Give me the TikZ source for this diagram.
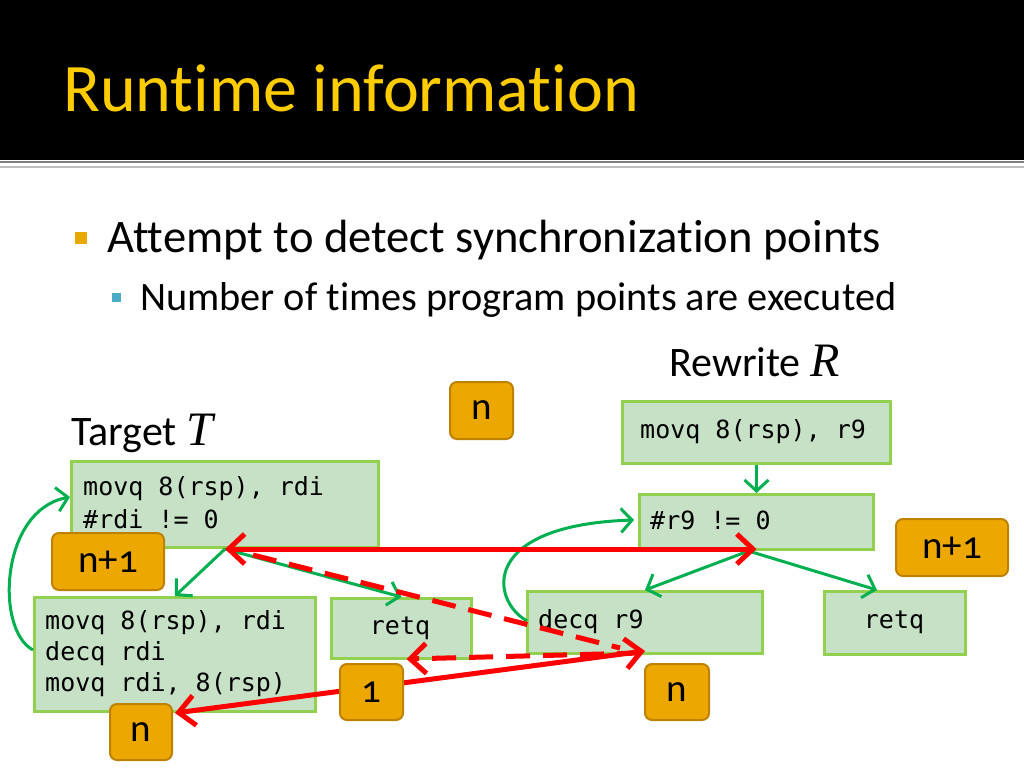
\documentclass[tikz,border=0pt]{standalone}
\usepackage{fontspec}
\setmainfont{Carlito}[Ligatures=NoCommon]
\newfontfamily\codefont{DejaVu Sans Mono}
\newfontfamily\badgefont{Carlito}[Ligatures=NoCommon,Numbers=OldStyle]
\newfontfamily\serifit{Liberation Serif}
\usetikzlibrary{arrows.meta,calc}
\definecolor{boxfill}{RGB}{198,225,197}
\definecolor{boxline}{RGB}{146,208,80}
\definecolor{badgefill}{RGB}{236,168,0}
\definecolor{badgeline}{RGB}{190,130,0}
\definecolor{arrgreen}{RGB}{0,176,80}
\definecolor{titleyellow}{RGB}{255,204,0}
\definecolor{bulletorange}{RGB}{232,168,0}
\definecolor{bulletteal}{RGB}{75,172,198}
\tikzset{rtip/.tip={Straight Barb[length=16pt,width=30pt,line width=5pt]}}
\begin{document}
\begin{tikzpicture}[x=1pt,y=-1pt,
 box/.style={draw=boxline, fill=boxfill, line width=3pt, inner sep=0pt, anchor=north west},
 badge/.style={draw=badgeline, fill=badgefill, line width=2pt, rounded corners=7pt, inner sep=0pt, font=\badgefont\fontsize{39}{39}\selectfont},
 code/.style={font=\codefont\fontsize{25}{30}\selectfont, anchor=west, inner sep=0pt},
 garrow/.style={draw=arrgreen, line width=3pt, -{Straight Barb[length=11pt,width=24pt,line width=3pt]}},
 rline/.style={draw=red, line width=5pt},
 rdash/.style={draw=red, line width=5pt, dash pattern=on 24pt off 13pt}
]
\useasboundingbox (0,0) rectangle (1024,768);
\fill[white] (0,0) rectangle (1024,768);
% title band
\fill[black] (0,0) rectangle (1024,160);
\draw[gray, line width=2pt] (0,162) -- (1024,162);
\draw[gray!50, line width=2pt] (0,166.5) -- (1024,166.5);
\node[anchor=west, inner sep=0pt, text=titleyellow, font=\fontsize{68}{68}\selectfont] (title) at (63,88) {Runtime information};
% bullets
\fill[bulletorange] (75,232) rectangle (87,244);
\node[anchor=base west, inner sep=0pt, font=\fontsize{46.6}{46.6}\selectfont] (b1) at (107,252) {Attempt to detect synchronization points};
\fill[bulletteal] (112,293) rectangle (121,302);
\node[anchor=base west, inner sep=0pt, font=\fontsize{40.3}{40.3}\selectfont] (b2) at (140,310) {Number of times program points are executed};
\node[anchor=base west, inner sep=0pt, font=\fontsize{42}{42}\selectfont] (lr) at (669,376) {Rewrite {\serifit\itshape\fontsize{48}{48}\selectfont R}};
\node[anchor=base west, inner sep=0pt, font=\fontsize{42}{42}\selectfont] (lt) at (71,445) {Target {\serifit\itshape\fontsize{48}{48}\selectfont T}};
% boxes target
\node[box, minimum width=307pt, minimum height=86pt] (t1) at (70,460) {};
\node[box, minimum width=281pt, minimum height=114pt] (t2) at (33,596) {};
\node[box, minimum width=140pt, minimum height=60pt] (t3) at (330,597) {};
\node[code] (t1a) at (83,489) {movq 8(rsp), rdi};
\node[code] (t1b) at (83,519) {\#rdi != 0};
\node[code] (t2a) at (45,623) {movq 8(rsp), rdi};
\node[code] (t2b) at (45,654) {decq rdi};
\node[code] (t2c) at (45,685) {movq rdi, 8(rsp)};
\node[code, anchor=center] (t3a) at (400,628) {retq};
% boxes rewrite
\node[box, minimum width=268pt, minimum height=62pt] (r1) at (621,400) {};
\node[box, minimum width=234pt, minimum height=55pt] (r2) at (638,493) {};
\node[box, minimum width=235pt, minimum height=62pt] (r3) at (526,590) {};
\node[box, minimum width=141pt, minimum height=63pt] (r4) at (823,590) {};
\node[code] (r1a) at (640,432) {movq 8(rsp), r9};
\node[code] (r2a) at (650,520) {\#r9 != 0};
\node[code] (r3a) at (538,622) {decq r9};
\node[code, anchor=center] (r4a) at (894,622) {retq};
% green arrows
\draw[garrow] (r1.south) -- (r2.north);
\draw[garrow] ($(r2.south)+(-8,0)$) -- (r3.north);
\draw[garrow] ($(r2.south)+(-8,0)$) -- ($(r4.north)+(-18,0)$);
\draw[garrow] (t1.south) -- (t2.north);
\draw[garrow] (t1.south) -- (t3.north);
\draw[garrow] (33,650) .. controls (-5,630) and (0,510) .. (70,497);
\draw[garrow] (527,621) .. controls (490,600) and (480,525) .. (634,520);
% red arrows
\draw[rline, rtip-rtip] (t1.south) -- (t1.south -| r2.south);
\draw[rline, rtip-rtip] (t2.south) -- ($(r3.south)+(0,-4)$);
\draw[rdash] ($(t1.south)+(28,6)$) -- ($(r3.south)+(-25,-7)$);
\draw[rdash, -rtip] ($(r3.south)+(-4,-2)$) -- ($(t3.south)+(5,-1)$);
% badges
\node[badge, minimum width=63pt, minimum height=57pt] (bn1) at (481.5,410.5) {n};
\node[badge, minimum width=112pt, minimum height=57pt] (bl) at (108,561.5) {n+1};
\node[badge, minimum width=112pt, minimum height=57pt] (br) at (952,547.5) {n+1};
\node[badge, minimum width=63pt, minimum height=56pt] (bone) at (371.5,692) {1};
\node[badge, minimum width=62pt, minimum height=56pt] (bn2) at (141,732) {n};
\node[badge, minimum width=64pt, minimum height=56pt] (bn3) at (677,692) {n};
\end{tikzpicture}
\end{document}
